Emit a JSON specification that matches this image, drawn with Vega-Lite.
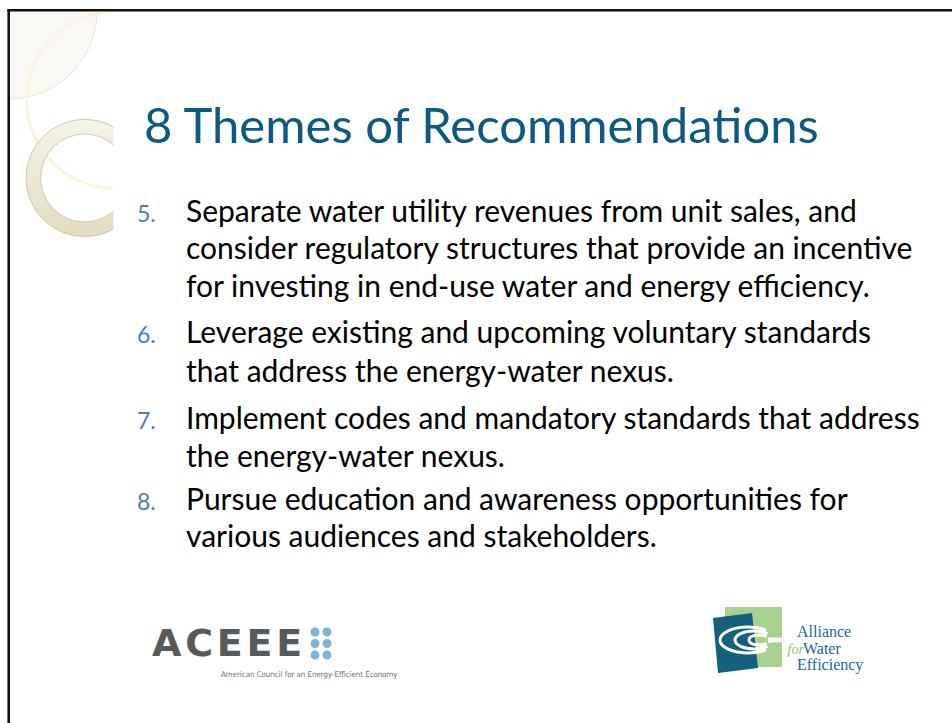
{
  "$schema": "https://vega.github.io/schema/vega-lite/v6.json",
  "width": 952,
  "height": 723,
  "padding": 0,
  "autosize": {"type": "none"},
  "background": "white",
  "config": {"view": {"stroke": null}, "axis": {"disable": true}},
  "layer": [
    {
      "data": {"values": [{}]},
      "layer": [
        {
          "mark": {"type": "arc", "theta": 1.5708, "theta2": 3.1416, "radius": 88, "fill": "#F9F8F4", "stroke": "#E8E4D8", "strokeWidth": 1},
          "encoding": {
            "x": {"datum": 9, "type": "quantitative", "scale": {"domain": [0, 952], "nice": false, "zero": false}},
            "y": {"datum": 11, "type": "quantitative", "scale": {"domain": [0, 723], "nice": false, "zero": false, "reverse": true}}
          }
        },
        {
          "mark": {"type": "arc", "theta": 3.164, "theta2": 6.261, "radius": 90, "radius2": 87, "fill": "#FBF3DC"},
          "encoding": {
            "x": {"datum": 115, "type": "quantitative"},
            "y": {"datum": 100, "type": "quantitative"}
          }
        },
        {
          "mark": {
            "type": "arc", "theta": 0, "theta2": 6.2832, "radius": 58.7, "radius2": 44,
            "fill": {"gradient": "linear", "x1": 0, "y1": 0, "x2": 0, "y2": 1, "stops": [{"offset": 0, "color": "#F5F3E8"}, {"offset": 1, "color": "#E2DCC0"}]},
            "stroke": "#CFC9AF", "strokeWidth": 1
          },
          "encoding": {
            "x": {"datum": 84.7, "type": "quantitative"},
            "y": {"datum": 178, "type": "quantitative"}
          }
        },
        {
          "mark": {"type": "rect", "fill": "white"},
          "encoding": {
            "x": {"datum": 113.5, "type": "quantitative"},
            "x2": {"datum": 146},
            "y": {"datum": 112, "type": "quantitative"},
            "y2": {"datum": 246}
          }
        },
        {
          "mark": {"type": "rule", "color": "#111111", "strokeWidth": 2.6},
          "encoding": {
            "x": {"datum": 8.7, "type": "quantitative"},
            "y": {"datum": 9, "type": "quantitative"},
            "y2": {"datum": 723}
          }
        },
        {
          "mark": {"type": "rule", "color": "#111111", "strokeWidth": 2.6},
          "encoding": {
            "y": {"datum": 10.3, "type": "quantitative"},
            "x": {"datum": 7.4, "type": "quantitative"},
            "x2": {"datum": 952}
          }
        },
        {
          "mark": {"type": "text", "text": "8 Themes of Recommendations", "font": "Lato", "fontSize": 49, "color": "#0B5A85", "align": "left", "baseline": "alphabetic"},
          "encoding": {
            "x": {"datum": 144, "type": "quantitative"},
            "y": {"datum": 143.3, "type": "quantitative"}
          }
        },
        {
          "mark": {"type": "rect", "fill": "#A9D18E"},
          "encoding": {
            "x": {"datum": 725, "type": "quantitative"},
            "x2": {"datum": 782},
            "y": {"datum": 607, "type": "quantitative"},
            "y2": {"datum": 667}
          }
        },
        {
          "mark": {"type": "point", "shape": "M-0.75,-0.833L0.55,-1L0.75,0.833L-0.583,1Z", "size": 3600, "filled": true, "fill": "#14607F", "opacity": 1, "strokeWidth": 0},
          "encoding": {
            "x": {"datum": 735.5, "type": "quantitative"},
            "y": {"datum": 643, "type": "quantitative"}
          }
        },
        {
          "mark": {"type": "point", "shape": "M0.40,-0.249A0.7,0.325 0 1,0 0.40,0.249M0.436,-0.159A0.475,0.225 0 1,0 0.436,0.159M0.416,-0.080A0.25,0.125 0 1,0 0.416,0.080M0.45,-0.03L0.82,-0.01M0.45,0.03L0.82,0.01", "size": 6400, "filled": false, "stroke": "white", "strokeWidth": 3, "opacity": 1},
          "encoding": {
            "x": {"datum": 750, "type": "quantitative"},
            "y": {"datum": 640, "type": "quantitative"}
          }
        },
        {
          "mark": {"type": "text", "text": "Alliance", "font": "Liberation Serif", "fontSize": 16, "color": "#1A6A8A", "align": "left", "baseline": "alphabetic"},
          "encoding": {
            "x": {"datum": 797, "type": "quantitative"},
            "y": {"datum": 637, "type": "quantitative"}
          }
        },
        {
          "mark": {"type": "text", "text": "for", "font": "Liberation Serif", "fontStyle": "italic", "fontSize": 14, "color": "#8DC26F", "align": "left", "baseline": "alphabetic"},
          "encoding": {
            "x": {"datum": 787.5, "type": "quantitative"},
            "y": {"datum": 653.5, "type": "quantitative"}
          }
        },
        {
          "mark": {"type": "text", "text": "Water", "font": "Liberation Serif", "fontSize": 16, "color": "#1A6A8A", "align": "left", "baseline": "alphabetic"},
          "encoding": {
            "x": {"datum": 803, "type": "quantitative"},
            "y": {"datum": 653.5, "type": "quantitative"}
          }
        },
        {
          "mark": {"type": "text", "text": "Efficiency", "font": "Liberation Serif", "fontSize": 16, "color": "#1A6A8A", "align": "left", "baseline": "alphabetic"},
          "encoding": {
            "x": {"datum": 797, "type": "quantitative"},
            "y": {"datum": 669.5, "type": "quantitative"}
          }
        },
        {
          "mark": {"type": "text", "text": "A\u200aC\u200aE\u200aE\u200aE", "font": "DejaVu Sans", "fontWeight": "bold", "fontSize": 38, "color": "#58595B", "align": "left", "baseline": "alphabetic"},
          "encoding": {
            "x": {"datum": 152, "type": "quantitative"},
            "y": {"datum": 655.5, "type": "quantitative"}
          }
        },
        {
          "mark": {"type": "point", "shape": "M-0.656,-0.719a0.281,0.281 0 1,0 0.562,0a0.281,0.281 0 1,0 -0.562,0ZM0.094,-0.719a0.281,0.281 0 1,0 0.562,0a0.281,0.281 0 1,0 -0.562,0ZM-0.656,0a0.281,0.281 0 1,0 0.562,0a0.281,0.281 0 1,0 -0.562,0ZM0.094,0a0.281,0.281 0 1,0 0.562,0a0.281,0.281 0 1,0 -0.562,0ZM-0.656,0.719a0.281,0.281 0 1,0 0.562,0a0.281,0.281 0 1,0 -0.562,0ZM0.094,0.719a0.281,0.281 0 1,0 0.562,0a0.281,0.281 0 1,0 -0.562,0Z", "size": 1024, "filled": true, "fill": "#7FB3DA", "opacity": 1, "strokeWidth": 0},
          "encoding": {
            "x": {"datum": 321, "type": "quantitative"},
            "y": {"datum": 643.5, "type": "quantitative"}
          }
        },
        {
          "mark": {"type": "text", "text": "American Council for an Energy-Efficient Economy", "font": "DejaVu Sans Condensed, Liberation Sans, sans-serif", "fontSize": 7.8, "color": "#6D6E71", "align": "left", "baseline": "alphabetic"},
          "encoding": {
            "x": {"datum": 221, "type": "quantitative"},
            "y": {"datum": 676.5, "type": "quantitative"}
          }
        }
      ]
    },
    {
      "data": {
        "values": [
          {"item": 5, "num": "5.", "line": 1, "text": "Separate water utility revenues from unit sales, and"},
          {"item": 5, "num": "", "line": 2, "text": "consider regulatory structures that provide an incentive"},
          {"item": 5, "num": "", "line": 3, "text": "for investing in end-use water and energy efficiency."},
          {"item": 6, "num": "6.", "line": 4.22, "text": "Leverage existing and upcoming voluntary standards"},
          {"item": 6, "num": "", "line": 5.23, "text": "that address the energy-water nexus."},
          {"item": 7, "num": "7.", "line": 6.49, "text": "Implement codes and mandatory standards that address"},
          {"item": 7, "num": "", "line": 7.48, "text": "the energy-water nexus."},
          {"item": 8, "num": "8.", "line": 8.63, "text": "Pursue education and awareness opportunities for"},
          {"item": 8, "num": "", "line": 9.6, "text": "various audiences and stakeholders."}
        ]
      },
      "layer": [
        {
          "mark": {"type": "text", "font": "Lato", "fontSize": 23, "color": "#4A7EBB", "align": "left", "baseline": "alphabetic"},
          "encoding": {
            "x": {"datum": 137, "type": "quantitative"},
            "y": {"field": "line", "type": "quantitative", "scale": {"domain": [1, 9.6], "range": [221.7, 546.7], "zero": false, "nice": false}},
            "text": {"field": "num"}
          }
        },
        {
          "mark": {"type": "text", "font": "Lato", "fontSize": 30, "color": "#000000", "align": "left", "baseline": "alphabetic"},
          "encoding": {
            "x": {"datum": 186, "type": "quantitative"},
            "y": {"field": "line", "type": "quantitative"},
            "text": {"field": "text"}
          }
        }
      ]
    }
  ],
  "resolve": {"scale": {"y": "independent"}}
}
